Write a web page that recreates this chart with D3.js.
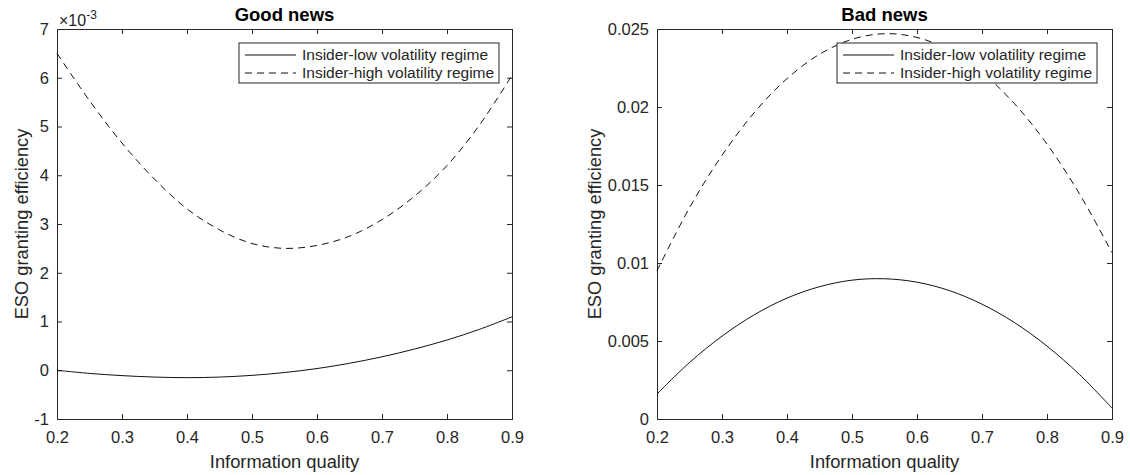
<!DOCTYPE html>
<html><head><meta charset="utf-8">
<script src="https://cdn.jsdelivr.net/npm/d3@7"></script>
<style>body{margin:0;background:#fff}svg{display:block}text{font-family:"Liberation Sans",Arial,sans-serif;fill:#262626}</style>
</head><body><svg id="c" width="1130" height="475"></svg>
<script>
const xValues = [0.2,0.25,0.3,0.35,0.4,0.45,0.5,0.55,0.6,0.65,0.7,0.75,0.8,0.85,0.9];
// Good news (units of 1e-3)
const goodLow  = [0.000,-0.065,-0.110,-0.140,-0.152,-0.140,-0.105,-0.047,0.035,0.143,0.276,0.435,0.620,0.840,1.095];
const goodHigh = [6.50,5.53,4.66,3.92,3.31,2.88,2.60,2.50,2.56,2.75,3.09,3.57,4.20,5.03,6.05];
// Bad news
const badLow  = [0.00160,0.00362,0.00531,0.00669,0.00775,0.00848,0.00890,0.00899,0.00877,0.00823,0.00736,0.00618,0.00467,0.00285,0.00070];
const badHigh = [0.00950,0.01354,0.01690,0.01966,0.02182,0.02338,0.02434,0.02470,0.02446,0.02364,0.02222,0.02021,0.01762,0.01443,0.01066];
const xTicks = [0.2,0.3,0.4,0.5,0.6,0.7,0.8,0.9];
const goodYTicks = [-1,0,1,2,3,4,5,6,7];
const badYTicks = [0,0.005,0.01,0.015,0.02,0.025];
const legendLabels = ["Insider-low volatility regime","Insider-high volatility regime"];
const titles = ["Good news","Bad news"];
const xLabel = "Information quality";
const yLabel = "ESO granting efficiency";

const svg = d3.select("#c");
const axisColor = "#262626";
const FF = "Liberation Sans, Arial, sans-serif";

function panel(opt){
  const {left,right,top,bottom,yDomain,yTicks,yFmt,low,high,title} = opt;
  const x = d3.scaleLinear().domain([0.2,0.9]).range([left,right]);
  const y = d3.scaleLinear().domain(yDomain).range([bottom,top]);
  const g = svg.append("g");
  const tl = 5;
  const bx = g.append("g").attr("transform",`translate(0,${bottom})`)
    .call(d3.axisBottom(x).tickValues(xTicks).tickSize(-tl).tickPadding(12).tickFormat(d3.format(".1f")));
  const tx = g.append("g").attr("transform",`translate(0,${top})`)
    .call(d3.axisTop(x).tickValues(xTicks).tickSize(-tl).tickFormat(""));
  const ly = g.append("g").attr("transform",`translate(${left},0)`)
    .call(d3.axisLeft(y).tickValues(yTicks).tickSize(-tl).tickPadding(8).tickFormat(yFmt));
  const ry = g.append("g").attr("transform",`translate(${right},0)`)
    .call(d3.axisRight(y).tickValues(yTicks).tickSize(-tl).tickFormat(""));
  [bx,tx,ly,ry].forEach(a=>{
    a.selectAll("path.domain").attr("stroke",axisColor).attr("stroke-width",1);
    a.selectAll(".tick line").attr("stroke",axisColor).attr("stroke-width",1);
    a.selectAll("text").style("font-size","16.5px").attr("fill",axisColor).style("font-family",FF);
  });
  bx.selectAll("text").attr("dy","0.71em");
  const line = vals => d3.line().curve(d3.curveCatmullRom.alpha(0.5)).x((d,i)=>x(xValues[i])).y(d=>y(d))(vals);
  g.append("path").attr("d",line(low)).attr("fill","none").attr("stroke","#111").attr("stroke-width",1);
  g.append("path").attr("d",line(high)).attr("fill","none").attr("stroke","#111").attr("stroke-width",1).attr("stroke-dasharray","7,5");
  g.append("text").attr("x",(left+right)/2).attr("y",21).attr("text-anchor","middle")
    .style("font-size","18.5px").style("font-weight","bold").style("fill","#000").text(title);
  g.append("text").attr("x",(left+right)/2).attr("y",468).attr("text-anchor","middle")
    .style("font-size","18.3px").text(xLabel);
  g.append("text").attr("transform",`translate(${opt.ylabX},${(top+bottom)/2}) rotate(-90)`).attr("text-anchor","middle")
    .style("font-size","18.3px").text(yLabel);
  const lg = g.append("g");
  const lx0 = opt.legX, ly0 = 43, lw = 260, lh = 40;
  lg.append("rect").attr("x",lx0).attr("y",ly0).attr("width",lw).attr("height",lh)
    .attr("fill","#fff").attr("stroke",axisColor).attr("stroke-width",1);
  legendLabels.forEach((lab,i)=>{
    const yy = ly0 + 12 + i*18;
    lg.append("line").attr("x1",lx0+6).attr("x2",lx0+57).attr("y1",yy).attr("y2",yy)
      .attr("stroke","#111").attr("stroke-width",1).attr("stroke-dasharray",i?"7,5":null);
    lg.append("text").attr("x",lx0+63).attr("y",yy).attr("dy","0.35em").style("font-size","15.5px").text(lab);
  });
  return {g,x,y};
}

const L = panel({left:57,right:512,top:29,bottom:419,yDomain:[-1,7],yTicks:goodYTicks,yFmt:d=>String(d),
  low:goodLow,high:goodHigh,title:titles[0],ylabX:28,legX:239});
const ex = L.g.append("text").attr("x",59).attr("y",26).style("font-size","16px");
ex.append("tspan").text("×10");
ex.append("tspan").attr("dy",-7).style("font-size","12px").text("-3");

panel({left:657,right:1112,top:29,bottom:419,yDomain:[0,0.025],yTicks:badYTicks,yFmt:d=>d===0?"0":String(+d.toFixed(3)),
  low:badLow,high:badHigh,title:titles[1],ylabX:601,legX:837});
</script></body></html>
